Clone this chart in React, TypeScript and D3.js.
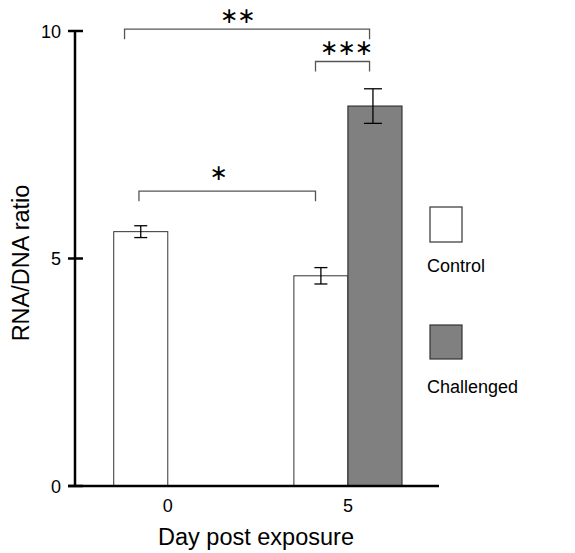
import React from "react";
import * as d3 from "d3";

const days = [0, 5];
const controlMeans = [5.59, 4.62];
const controlErrs = [0.13, 0.18];
const challengedDays = [5];
const challengedMeans = [8.35];
const challengedErrs = [0.38];
const yTicks = [0, 5, 10];
const seriesNames = ["Control", "Challenged"];
// significance brackets
const bracketX1 = [-1.2, 4.1, -0.8];
const bracketX2 = [5.6, 5.6, 4.1];
const bracketY = [10.04, 9.33, 6.48];
const bracketLabels = ["∗∗", "∗∗∗", "∗"];
const labelX = [1.93, 4.95, 1.4];
const labelY = [10.32, 9.62, 6.87];

const W = 575;
const H = 553;
const FONT = "'Liberation Sans', Arial, Helvetica, sans-serif";

export default function App() {
  const x = d3.scaleLinear().domain([-2.575, 7.5]).range([75, 438]);
  const y = d3.scaleLinear().domain([0, 10]).range([486, 31]);
  const barW = x(1.5) - x(0);
  const axisColor = "#000";

  return (
    <svg width={W} height={H} style={{ position: "absolute", left: 0, top: 0, background: "#fff" }}>
      <rect x={0} y={0} width={W} height={H} fill="#fff" />
      {days.map((d, i) => (
        <rect key={"c" + i} x={x(d) - barW} y={y(controlMeans[i])} width={barW} height={y(0) - y(controlMeans[i])}
          fill="#fff" stroke="#333" strokeWidth={1} />
      ))}
      {challengedDays.map((d, i) => (
        <rect key={"h" + i} x={x(d)} y={y(challengedMeans[i])} width={barW} height={y(0) - y(challengedMeans[i])}
          fill="#808080" stroke="#333" strokeWidth={1.2} />
      ))}
      {days.map((d, i) => {
        const cx = x(d) - barW / 2;
        const t = y(controlMeans[i] + controlErrs[i]);
        const b = y(controlMeans[i] - controlErrs[i]);
        return (
          <g key={"ec" + i} stroke="#000" strokeWidth={1.3}>
            <line x1={cx} x2={cx} y1={t} y2={b} />
            <line x1={cx - 6.5} x2={cx + 6.5} y1={t} y2={t} />
            <line x1={cx - 6.5} x2={cx + 6.5} y1={b} y2={b} />
          </g>
        );
      })}
      {challengedDays.map((d, i) => {
        const cx = x(d) + barW / 2 - 2;
        const t = y(challengedMeans[i] + challengedErrs[i]);
        const b = y(challengedMeans[i] - challengedErrs[i]);
        return (
          <g key={"eh" + i} stroke="#000" strokeWidth={1.3}>
            <line x1={cx} x2={cx} y1={t} y2={b} />
            <line x1={cx - 9} x2={cx + 9} y1={t} y2={t} />
            <line x1={cx - 9} x2={cx + 9} y1={b} y2={b} />
          </g>
        );
      })}
      <line x1={x(-2.575)} x2={x(-2.575)} y1={y(10)} y2={y(0)} stroke={axisColor} strokeWidth={2.5} />
      <line x1={68} x2={439} y1={y(0)} y2={y(0)} stroke={axisColor} strokeWidth={2.5} />
      {yTicks.map((t) => (
        <g key={"yt" + t}>
          <line x1={68} x2={83} y1={y(t)} y2={y(t)} stroke={axisColor} strokeWidth={2.5} />
          <text x={61} y={y(t) + 6.5} textAnchor="end" fontFamily={FONT} fontSize={18} fill="#000">{t}</text>
        </g>
      ))}
      {days.map((d) => (
        <text key={"xt" + d} x={x(d)} y={512} textAnchor="middle" fontFamily={FONT} fontSize={18} fill="#000">{d}</text>
      ))}
      <text x={256} y={545} textAnchor="middle" fontFamily={FONT} fontSize={23.5} fill="#000">Day post exposure</text>
      <text transform={`translate(29, 263) rotate(-90)`} textAnchor="middle" fontFamily={FONT} fontSize={23.5} fill="#000">RNA/DNA ratio</text>
      {bracketX1.map((bx, i) => {
        const x1 = x(bx);
        const x2 = x(bracketX2[i]);
        const yy = y(bracketY[i]);
        return (
          <g key={"br" + i}>
            <path d={`M${x1},${yy + 10}V${yy}H${x2}V${yy + 10}`} fill="none" stroke="#555" strokeWidth={1.3} />
            <text x={x(labelX[i])} y={y(labelY[i]) + 7} textAnchor="middle" fontFamily="'DejaVu Sans', sans-serif"
              fontSize={22} letterSpacing={-1} fill="#000">{bracketLabels[i]}</text>
          </g>
        );
      })}
      <rect x={430} y={207} width={32} height={35} fill="#fff" stroke="#333" strokeWidth={1.2} />
      <text x={427} y={272} fontFamily={FONT} fontSize={18} fill="#000">{seriesNames[0]}</text>
      <rect x={430} y={325} width={32} height={34} fill="#808080" stroke="#333" strokeWidth={1.2} />
      <text x={427} y={393} fontFamily={FONT} fontSize={18} fill="#000">{seriesNames[1]}</text>
    </svg>
  );
}
